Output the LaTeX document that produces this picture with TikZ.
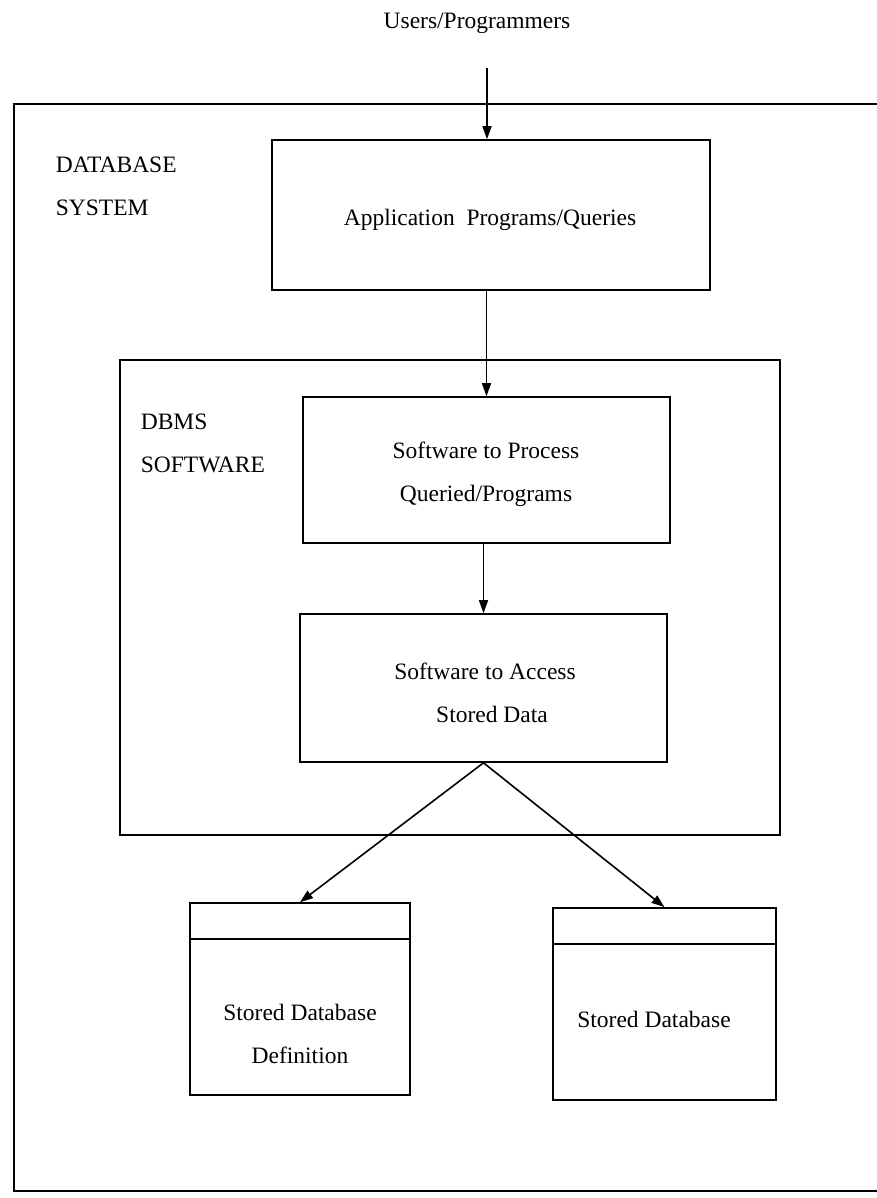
\documentclass[tikz,border=0pt]{standalone}
\usepackage{fontspec}
\setmainfont{Liberation Serif}
\usetikzlibrary{arrows.meta}
\begin{document}
\begin{tikzpicture}[x=1pt,y=-1pt,
  font=\fontsize{23.5}{43}\selectfont,
  line width=1.6pt,
  box/.style={draw, inner sep=0pt},
  txt/.style={inner sep=0pt, align=center},
  lbl/.style={inner sep=0pt, align=left, anchor=base west},
  conn/.style={-{Triangle[length=13pt,width=9pt]}}]
\useasboundingbox (0,0) rectangle (877,1198);

% heading and entry point of the flow
\node[inner sep=0pt, anchor=base] (users) at (477,29) {Users/Programmers};
\coordinate (ustart) at (487,68);

% outer database-system frame (open on the right)
\draw (877,104) -- (14,104) -- (14,1191) -- (877,1191);
\node[lbl] (dbsys) at (55,216) {DATABASE\\SYSTEM};

% application layer
\node[box, minimum width=438pt, minimum height=150pt] (app) at (491,215) {};
\node[txt] (apptxt) at (490,220) {Application\ \ Programs/Queries};

% DBMS software container
\node[box, minimum width=660pt, minimum height=475pt] (dbms) at (450,597.5) {};
\node[lbl] (dbmslbl) at (140,472) {DBMS\\SOFTWARE};

\node[box, minimum width=367pt, minimum height=146pt] (proc) at (486.5,470) {};
\node[txt] (proctxt) at (486,474) {Software\ to\ Process\\Queried/Programs};

\node[box, minimum width=367pt, minimum height=148pt] (acc) at (483.5,688) {};
\node[txt] (acctxt) at (485,693)
  {Software\ to\ Access\\\hspace*{14pt}Stored\ Data};

% stored files
\node[box, minimum width=220pt, minimum height=192pt] (ldb) at (300,999) {};
\draw (ldb.north west) ++(0,37) coordinate (ldbsl) -- (ldbsl -| ldb.east);
\node[txt] (ldbtxt) at (300,1034) {Stored\ Database\\Definition};

\node[box, minimum width=223pt, minimum height=192pt] (rdb) at (664.5,1004) {};
\draw (rdb.north west) ++(0,37) coordinate (rdbsl) -- (rdbsl -| rdb.east);
\node[txt] (rdbtxt) at (654,1019) {Stored\ Database};

% connectors
\draw[conn] (ustart) -- (ustart |- app.north);
\draw[conn] (proc.north |- app.south) -- (proc.north);
\draw[conn] (acc.north |- proc.south) -- (acc.north);
\draw[conn] (acc.south) -- (ldb.north);
\draw[conn] (acc.south) -- (rdb.north);
\end{tikzpicture}
\end{document}
